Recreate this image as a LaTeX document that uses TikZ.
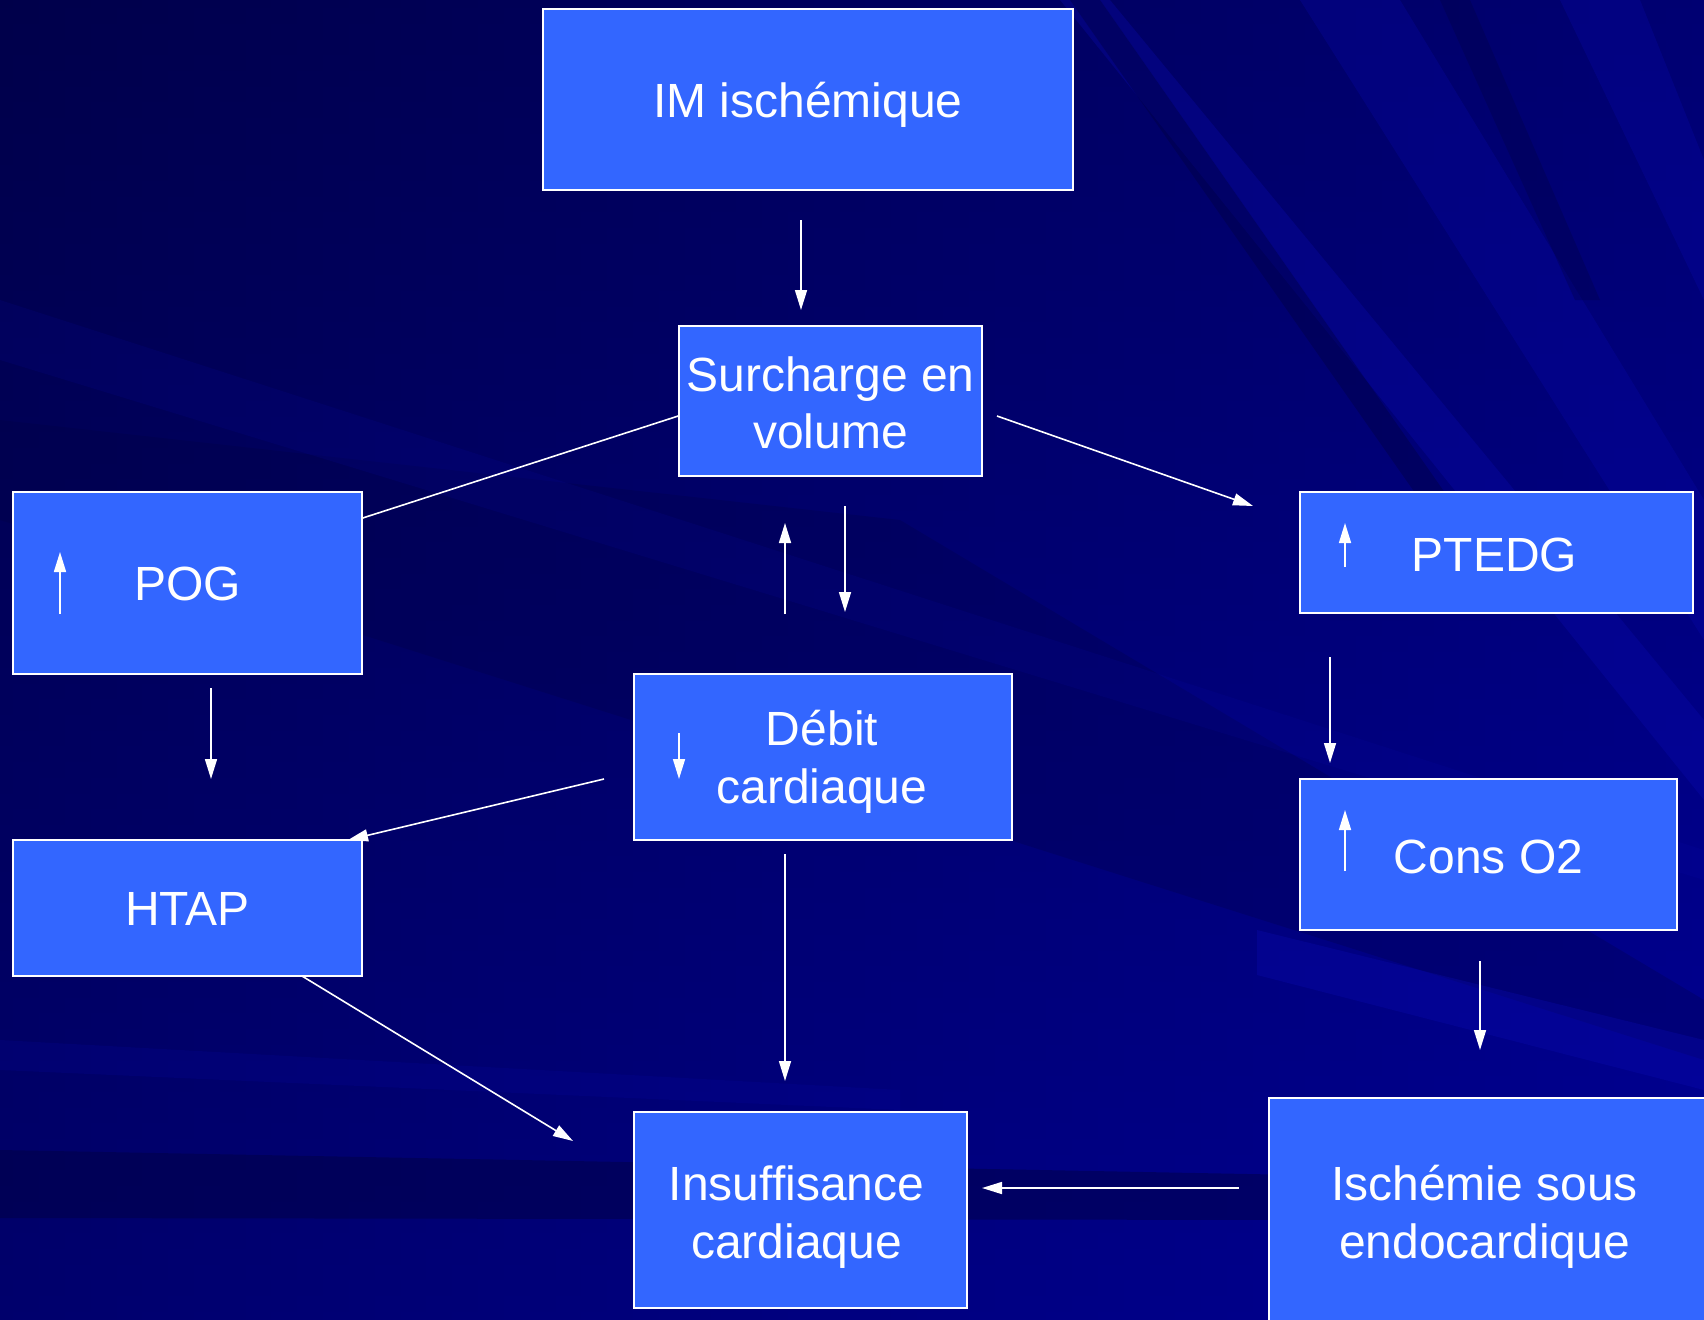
\documentclass[tikz,border=0pt]{standalone}
\usepackage{fontspec}
\setmainfont{Liberation Sans}
\usetikzlibrary{arrows.meta}
\definecolor{boxblue}{HTML}{3366FF}
\definecolor{bgA}{HTML}{000052}
\definecolor{bgB}{HTML}{000094}
\definecolor{bgdark}{HTML}{000040}
\definecolor{raycol}{HTML}{0A0AB4}
\begin{document}
\begin{tikzpicture}[x=1pt,y=-1pt,
  box/.style={draw=white, line width=1.5pt, fill=boxblue},
  txt/.style={text=white, align=center, font=\fontsize{48}{57.6}\selectfont, inner sep=0pt},
  arr/.style={draw=white, line width=1.6pt, -{Triangle[length=20pt,width=12pt]}},
  plain/.style={draw=white, line width=1.6pt}]
\useasboundingbox (0,0) rectangle (1704,1319);
\clip (0,0) rectangle (1704,1319);
% background
\shade[left color=bgA, right color=bgB] (0,0) rectangle (1704,1319);
\shade[top color=bgdark, bottom color=bgB, opacity=0.4] (0,0) rectangle (1704,1319);
% rays from the upper right
\fill[raycol, opacity=0.30] (1060,0) -- (1110,0) -- (1704,720) -- (1704,800) -- cycle;
\fill[raycol, opacity=0.25] (1300,0) -- (1400,0) -- (1704,500) -- (1704,640) -- cycle;
\fill[raycol, opacity=0.25] (1560,0) -- (1640,0) -- (1704,160) -- (1704,300) -- cycle;
\fill[bgdark, opacity=0.40] (1070,0) -- (1100,0) -- (1450,500) -- (1420,500) -- cycle;
\fill[bgdark, opacity=0.30] (1440,0) -- (1470,0) -- (1600,300) -- (1575,300) -- cycle;
\fill[bgdark, opacity=0.25] (0,420) -- (900,520) -- (1704,1000) -- (1704,1060) -- (0,520) -- cycle;
\fill[raycol, opacity=0.12] (0,300) -- (1704,850) -- (1704,880) -- (0,360) -- cycle;
% bottom streaks
\fill[raycol, opacity=0.30] (1257,930) -- (1704,1040) -- (1704,1090) -- (1257,975) -- cycle;
\fill[bgdark, opacity=0.45] (0,1150) -- (1300,1175) -- (1704,1200) -- (1704,1230) -- (1300,1220) -- (0,1218) -- cycle;
\fill[raycol, opacity=0.15] (0,1040) -- (900,1090) -- (900,1110) -- (0,1070) -- cycle;

% boxes
\node[box, minimum width=530pt, minimum height=181pt] (im) at (808,99.5) {};
\node[box, minimum width=303pt, minimum height=150pt] (sv) at (830.5,401) {};
\node[box, minimum width=349pt, minimum height=182pt] (pog) at (187.5,583) {};
\node[box, minimum width=393pt, minimum height=121pt] (ptedg) at (1496.5,552.5) {};
\node[box, minimum width=378pt, minimum height=166pt] (dc) at (823,757) {};
\node[box, minimum width=349pt, minimum height=136pt] (htap) at (187.5,908) {};
\node[box, minimum width=377pt, minimum height=151pt] (co2) at (1488.5,854.5) {};
\node[box, minimum width=333pt, minimum height=196pt] (ic) at (800.5,1210) {};
\node[box, minimum width=441pt, minimum height=228pt] (ise) at (1489.5,1212) {};

% texts
\node[txt] (imt) at ([yshift=-5pt]im.center) {IM ischémique};
\node[txt] (svt) at ([yshift=-2pt]sv.center) {Surcharge en\\volume};
\node[txt] (pogt) at ([yshift=-1pt]pog.center) {POG};
\node[txt] (ptedgt) at ([xshift=-2pt,yshift=-2pt]ptedg.center) {PTEDG};
\node[txt] (dct) at ([xshift=-1pt,yshift=-5pt]dc.center) {Débit\\cardiaque};
\node[txt] (htapt) at ([yshift=-1pt]htap.center) {HTAP};
\node[txt] (co2t) at ([yshift=-2pt]co2.center) {Cons O2};
\node[txt] (ict) at ([xshift=-4pt,yshift=-7pt]ic.center) {Insuffisance\\cardiaque};
\node[txt] (iset) at ([xshift=-5pt,yshift=-5pt]ise.center) {Ischémie sous\\endocardique};

% connector end points
\coordinate (a1) at (801,220);  \coordinate (a2) at (801,310);
\coordinate (b1) at (997,416);  \coordinate (b2) at (1253,506);
\coordinate (c1) at (785,614);  \coordinate (c2) at (785,523);
\coordinate (d1) at (845,506);  \coordinate (d2) at (845,612);
\coordinate (e1) at (211,688);  \coordinate (e2) at (211,779);
\coordinate (f1) at (604,779);  \coordinate (f2) at (348,840);
\coordinate (g1) at (785,854);  \coordinate (g2) at (785,1081);
\coordinate (h1) at (302,976);  \coordinate (h2) at (573,1141);
\coordinate (i1) at (1330,657); \coordinate (i2) at (1330,763);
\coordinate (j1) at (1480,961); \coordinate (j2) at (1480,1050);
\coordinate (k1) at (1239,1188); \coordinate (k2) at (982,1188);

\draw[arr] (a1) -- (a2);
\draw[plain] (sv.west |- 0,416) -- (pog.east |- 0,518);
\draw[arr] (b1) -- (b2);
\draw[arr] (c1) -- (c2);
\draw[arr] (d1) -- (d2);
\draw[arr] (e1) -- (e2);
\draw[arr] (f1) -- (f2);
\draw[arr] (g1) -- (g2);
\draw[arr] (h1) -- (h2);
\draw[arr] (i1) -- (i2);
\draw[arr] (j1) -- (j2);
\draw[arr] (k1) -- (k2);

% small arrows inside boxes
\coordinate (pa1) at (60,614);   \coordinate (pa2) at (60,552);
\coordinate (ta1) at (1345,567); \coordinate (ta2) at (1345,523);
\coordinate (da1) at (679,733);  \coordinate (da2) at (679,779);
\coordinate (oa1) at (1345,871); \coordinate (oa2) at (1345,810);
\draw[arr] (pa1) -- (pa2);
\draw[arr] (ta1) -- (ta2);
\draw[arr] (da1) -- (da2);
\draw[arr] (oa1) -- (oa2);
\end{tikzpicture}
\end{document}
